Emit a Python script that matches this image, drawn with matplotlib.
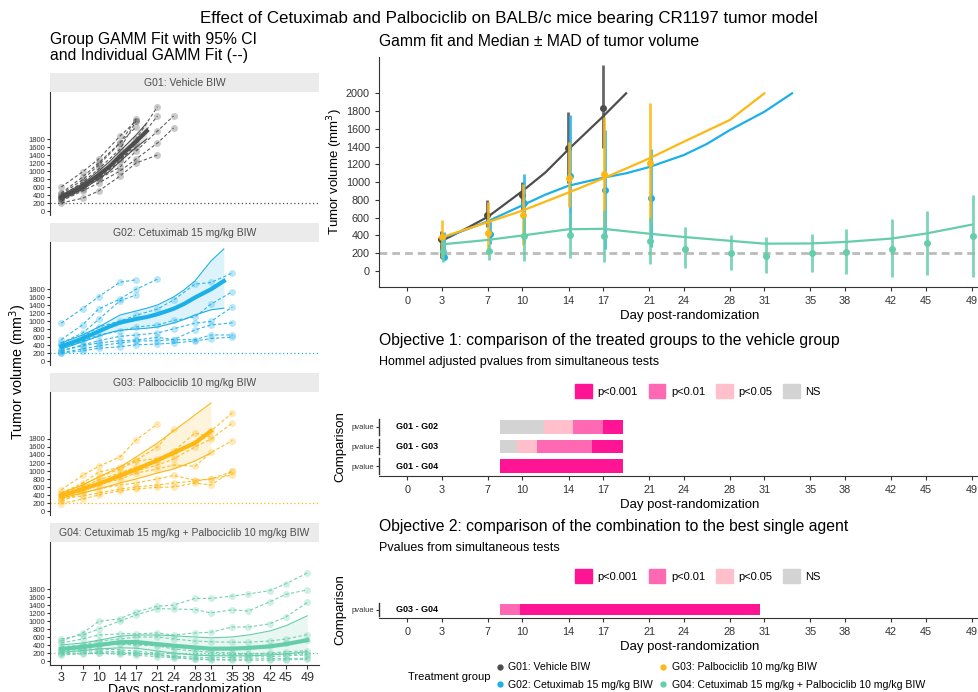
import matplotlib
matplotlib.use('Agg')
import matplotlib.pyplot as plt
from matplotlib.patches import Patch
from matplotlib.lines import Line2D
import numpy as np

plt.rcParams['font.family'] = ['Liberation Sans', 'DejaVu Sans']
nan = np.nan
W, H = 979, 692

# ---- data ----
groups = ['G01: Vehicle BIW', 'G02: Cetuximab 15 mg/kg BIW',
          'G03: Palbociclib 10 mg/kg BIW',
          'G04: Cetuximab 15 mg/kg + Palbociclib 10 mg/kg BIW']
colors = ['#4D4D4D', '#1CB0E8', '#FDB813', '#66CDAA']
day_ticks = [0, 3, 7, 10, 14, 17, 21, 24, 28, 31, 35, 38, 42, 45, 49]
facet_ticks = [3, 7, 10, 14, 17, 21, 24, 28, 31, 35, 38, 42, 45, 49]

# median +/- MAD (main panel)
g01_days = [3, 7, 10, 14, 17]
g01_med = [360, 630, 850, 1390, 1830]
g01_lo = [150, 500, 690, 990, 1380]
g01_hi = [450, 800, 1000, 1790, 2320]
g02_days = [3, 7, 10, 14, 17, 21]
g02_med = [160, 420, 760, 1070, 910, 820]
g02_lo = [140, 300, 310, 400, 250, 270]
g02_hi = [440, 560, 1090, 1760, 1590, 1370]
g03_days = [3, 7, 10, 14, 17, 21]
g03_med = [380, 430, 630, 1050, 1090, 1220]
g03_lo = [160, 195, 290, 720, 500, 545]
g03_hi = [570, 780, 985, 1455, 1730, 1895]
g04_days = [3, 7, 10, 14, 17, 21, 24, 28, 31, 35, 38, 42, 45, 49]
g04_med = [220, 220, 390, 400, 390, 340, 250, 200, 170, 200, 210, 250, 320, 390]
g04_lo = [100, 120, 110, 150, 100, 80, 30, 10, -20, -10, -30, -70, -40, -70]
g04_hi = [360, 300, 610, 650, 690, 610, 500, 400, 380, 420, 470, 580, 680, 850]

# group GAMM fits
g01_fit_days = [3, 5, 7, 10, 12, 14, 17, 19]
g01_fit = [340, 470, 610, 900, 1110, 1370, 1740, 2000]
g01_fit_lo = [290, 400, 540, 800, 990, 1240, 1590, 1800]
g01_fit_hi = [400, 540, 680, 1000, 1230, 1500, 1900, 2200]
g02_fit_days = [3, 5, 7, 10, 12, 14, 17, 19, 21, 24, 26, 28, 31, 33.4]
g02_fit = [370, 460, 560, 740, 860, 960, 1050, 1100, 1170, 1305, 1430, 1586, 1793, 2000]
g02_fit_lo = [300, 390, 480, 620, 710, 770, 800, 820, 850, 950, 1040, 1150, 1280, 1320]
g02_fit_hi = [450, 550, 650, 850, 1000, 1150, 1250, 1320, 1400, 1600, 1780, 2000, 2500, 2800]
g03_fit_days = [3, 7, 10, 14, 17, 21, 24, 28, 31]
g03_fit = [380, 550, 680, 883, 1041, 1267, 1455, 1700, 2000]
g03_fit_lo = [320, 450, 550, 700, 800, 950, 1050, 1250, 1450]
g03_fit_hi = [450, 650, 850, 1100, 1350, 1700, 2000, 2400, 2700]
g04_fit_days = [3, 7, 10, 14, 17, 21, 24, 28, 31, 35, 38, 42, 45, 49]
g04_fit = [300, 350, 400, 470, 475, 420, 383, 340, 308, 310, 327, 365, 421, 522]
g04_fit_lo = [220, 260, 300, 330, 320, 250, 200, 150, 130, 130, 130, 150, 180, 230]
g04_fit_hi = [400, 450, 520, 620, 650, 650, 630, 600, 580, 600, 650, 750, 880, 1130]

# individual animals
g01_mouse_days = [3, 7, 10, 14, 17, 21, 24]
g01_mice = [
    [420, 780, 1150, 1700, 2300, nan, nan],
    [380, 720, 1050, 1550, 2250, nan, nan],
    [600, 980, 1300, 1875, 2250, nan, nan],
    [350, 650, 900, 1400, 1800, 2608, nan],
    [300, 560, 820, 1250, 1700, 2375, nan],
    [320, 600, 800, 1100, 1500, 2000, 2375],
    [250, 500, 700, 1000, 1300, 1700, 2075],
    [200, 320, 500, 875, 1200, 1400, nan],
    [450, 850, 1200, 1708, 2100, nan, nan],
    [330, 600, 850, 1300, 1600, nan, nan],
]
g02_mouse_days = [3, 7, 10, 14, 17, 21, 24, 28, 31, 35]
g02_mice = [
    [947, 1312, 1607, 1972, 2030, nan, nan, nan, nan, nan],
    [533, 905, 1300, 1550, 1794, 2047, nan, nan, nan, nan],
    [450, 700, 1040, 1506, 1650, nan, nan, nan, nan, nan],
    [400, 600, 850, 1000, 1142, 1300, 1523, 1921, 1963, 2200],
    [300, 500, 650, 750, 850, 900, 1015, 1100, 1421, 1734],
    [260, 400, 508, 617, 650, 700, 804, 947, 990, 1353],
    [250, 380, 450, 508, 525, 592, 533, 778, 900, 956],
    [212, 300, 381, 450, 500, 508, 533, 533, 651, 651],
    [200, 254, 320, 355, 406, 423, 450, 500, 560, 600],
]
g03_mouse_days = [3, 7, 10, 14, 17, 21, 24, 28, 31, 35]
g03_mice = [
    [533, 888, 1117, 1354, 1777, 2174, nan, nan, nan, nan],
    [450, 700, 972, 1100, 1269, 1600, 2047, nan, nan, nan],
    [420, 650, 850, 1050, 1250, 1311, 1500, 1946, 1861, nan],
    [400, 600, 780, 950, 1100, 1250, 1400, 1700, 2000, 2453],
    [350, 550, 700, 850, 1000, 1150, 1300, 1600, 1800, 2200],
    [300, 500, 650, 800, 950, 1050, 1150, 1117, 1463, 1760],
    [250, 450, 550, 650, 700, 804, 888, 770, 800, 992],
    [186, 300, 400, 508, 550, 592, 600, 700, 651, 1000],
    [300, 380, 450, 550, 600, 650, 700, 750, 800, 900],
]
g04_mouse_days = [3, 7, 10, 14, 17, 21, 24, 28, 31, 35, 38, 42, 45, 49]
g04_mice = [
    [500, 700, 990, 1058, 1227, 1371, 1396, 1565, 1565, 1624, 1675, 1760, 1929, 2200],
    [550, 650, 800, 1000, 1150, 1311, 1300, 1287, 1202, 1280, 1250, 1480, 1667, 1777],
    [450, 550, 650, 680, 680, 700, 650, 700, 720, 850, 850, 931, 1100, 1464],
    [300, 400, 500, 550, 600, 600, 550, 500, 480, 470, 470, 500, 550, 660],
    [350, 400, 420, 450, 420, 400, 350, 300, 280, 300, 330, 380, 450, 520],
    [250, 300, 300, 280, 250, 200, 180, 150, 150, 160, 170, 200, 230, 260],
    [200, 250, 250, 230, 200, 170, 120, 100, 80, 90, 100, 110, 130, 150],
    [180, 200, 210, 200, 180, 150, 100, 60, 40, 40, 50, 60, 60, 70],
    [150, 180, 190, 170, 140, 110, 80, 40, 30, 20, 20, 20, 30, 40],
    [280, 350, 400, 420, 400, 380, 300, 250, 220, 200, 180, 170, 170, 170],
]

# p-value intervals (start day, end day, category)
p_levels = ['p<0.001', 'p<0.01', 'p<0.05', 'NS']
p_colors = ['#FF1493', '#FF69B4', '#FFC0CB', '#D3D3D3']
obj1_labels = ['G01 - G02', 'G01 - G03', 'G01 - G04']
obj1_start = [[8.05, 11.87, 14.38, 16.95], [8.05, 9.55, 11.3, 16.06], [8.05]]
obj1_end = [[11.87, 14.38, 16.95, 18.7], [9.55, 11.3, 16.06, 18.7], [18.7]]
obj1_cat = [['NS', 'p<0.05', 'p<0.01', 'p<0.001'],
            ['NS', 'p<0.05', 'p<0.01', 'p<0.001'], ['p<0.001']]
obj2_labels = ['G03 - G04']
obj2_start = [[8.05, 9.8]]
obj2_end = [[9.8, 30.58]]
obj2_cat = [['p<0.01', 'p<0.001']]

main_days = [g01_days, g02_days, g03_days, g04_days]
main_med = [g01_med, g02_med, g03_med, g04_med]
main_lo = [g01_lo, g02_lo, g03_lo, g04_lo]
main_hi = [g01_hi, g02_hi, g03_hi, g04_hi]
fit_days = [g01_fit_days, g02_fit_days, g03_fit_days, g04_fit_days]
fit_val = [g01_fit, g02_fit, g03_fit, g04_fit]
fit_lo = [g01_fit_lo, g02_fit_lo, g03_fit_lo, g04_fit_lo]
fit_hi = [g01_fit_hi, g02_fit_hi, g03_fit_hi, g04_fit_hi]
mouse_days = [g01_mouse_days, g02_mouse_days, g03_mouse_days, g04_mouse_days]
mice = [g01_mice, g02_mice, g03_mice, g04_mice]

fig = plt.figure(figsize=(W / 100, H / 100), dpi=100)


def px_axes(l, t, r, b):
    return fig.add_axes([l / W, 1 - b / H, (r - l) / W, (b - t) / H])


AX_COL = '#333333'
TICK_FS = 7.8
LAB_FS = 9.5

fig.text(509 / W, 1 - 18 / H,
         'Effect of Cetuximab and Palbociclib on BALB/c mice bearing CR1197 tumor model',
         ha='center', va='center', fontsize=12.2)
fig.text(50 / W, 1 - 32 / H, 'Group GAMM Fit with 95% CI\nand Individual GAMM Fit (--)',
         ha='left', va='top', fontsize=11.3, linespacing=1.1)
fig.text(18 / W, 1 - 372 / H, 'Tumor volume (mm$^3$)', rotation=90,
         ha='center', va='center', fontsize=10.3)

# ---- left facets ----
for k in range(4):
    top = 73 + 150 * k
    sax = px_axes(50, top, 319, top + 19)
    sax.set_facecolor('#EBEBEB')
    sax.set_xticks([]); sax.set_yticks([])
    for s in sax.spines.values():
        s.set_visible(False)
    sax.text(0.5, 0.5, groups[k], ha='center', va='center', fontsize=7.5,
             color='#4D4D4D', transform=sax.transAxes)

    ax = px_axes(50, top + 19, 319, top + 142)
    c = colors[k]
    ax.set_xlim(0.9, 51.2)
    ax.set_ylim(-100, 2975)
    ax.axhline(200, color=c, lw=0.9, ls=(0, (1, 2)))
    ax.fill_between(fit_days[k], fit_lo[k], fit_hi[k], color=c, alpha=0.15, lw=0)
    ax.plot(fit_days[k], fit_lo[k], color=c, lw=0.8)
    ax.plot(fit_days[k], fit_hi[k], color=c, lw=0.8)
    for m in mice[k]:
        ax.plot(mouse_days[k], m, color=c, lw=0.8, ls=(0, (3, 2)), alpha=0.9)
        ax.plot(mouse_days[k], m, 'o', color=c, ms=5, alpha=0.3, mec='none')
    ax.plot(fit_days[k], fit_val[k], color=c, lw=3)
    ax.set_yticks(range(0, 2000, 200))
    ax.tick_params(axis='y', labelsize=5.5, length=2.5, pad=1, colors=AX_COL)
    for s in ['top', 'right']:
        ax.spines[s].set_visible(False)
    ax.spines['left'].set_color(AX_COL)
    if k < 3:
        ax.spines['bottom'].set_visible(False)
        ax.set_xticks([])
    else:
        ax.spines['bottom'].set_color(AX_COL)
        ax.set_xticks(facet_ticks)
        ax.tick_params(axis='x', labelsize=9, length=3, pad=2, colors=AX_COL)
        ax.set_xlabel('Days post-randomization', fontsize=10, labelpad=-1)

# ---- main panel ----
ax = px_axes(379, 57, 1000, 287)
ax.set_xlim(-2.45, 51.45)
ax.set_ylim(-180, 2409)
ax.axhline(200, color='#BBBBBB', lw=2, ls=(0, (2.8, 1.8)))
offsets = [-0.05, 0.15, 0.05, 0.1]
for k in range(4):
    d = np.array(main_days[k]) + offsets[k]
    med = np.array(main_med[k])
    ax.vlines(d, main_lo[k], main_hi[k], color=colors[k], lw=2, alpha=0.85)
    ax.plot(d, med, 'o', color=colors[k], ms=4)
    ax.plot(fit_days[k], fit_val[k], color=colors[k], lw=1.6)
ax.set_xticks(day_ticks)
ax.set_yticks(range(0, 2001, 200))
ax.tick_params(labelsize=TICK_FS, length=3, colors=AX_COL)
for s in ['top', 'right']:
    ax.spines[s].set_visible(False)
for s in ['left', 'bottom']:
    ax.spines[s].set_color(AX_COL)
ax.set_xlabel('Day post-randomization', fontsize=LAB_FS, labelpad=3)
ax.set_ylabel('Tumor volume (mm$^3$)', fontsize=LAB_FS)
ax.yaxis.set_label_coords((345 - 379) / 621, 0.5)
ax.set_title('Gamm fit and Median \u00b1 MAD of tumor volume', loc='left',
             fontsize=11.3, x=0.0, pad=8)


# ---- p-value panels ----
def pvalue_panel(top, bottom, labels, starts, ends, cats, title, subtitle, t_y, s_y, leg_y):
    fig.text(379 / W, 1 - t_y / H, title, ha='left', va='center', fontsize=11.3)
    fig.text(379 / W, 1 - s_y / H, subtitle, ha='left', va='center', fontsize=9)
    n = len(labels)
    pax = px_axes(379, top, 1000, bottom)
    pax.set_xlim(-2.45, 51.45)
    pax.set_ylim(-0.5, n - 0.5)
    rows = list(range(n - 1, -1, -1))
    for r, lab, st, en, ca in zip(rows, labels, starts, ends, cats):
        for s0, e0, cc in zip(st, en, ca):
            pax.barh(r, e0 - s0, left=s0, height=0.7,
                     color=p_colors[p_levels.index(cc)], lw=0)
        pax.text(-1, r, lab, ha='left', va='center', fontsize=6.5,
                 fontweight='bold')
        pax.plot([0, 0], [r - 0.4, r + 0.4], color=AX_COL, lw=1,
                 transform=pax.get_yaxis_transform(), clip_on=False)
    pax.set_yticks(rows)
    pax.set_yticklabels(['pvalue'] * n)
    pax.tick_params(axis='y', labelsize=5.5, length=2.5, pad=1, colors=AX_COL)
    pax.set_xticks(day_ticks)
    pax.tick_params(axis='x', labelsize=TICK_FS, length=3, colors=AX_COL)
    for s in ['top', 'right', 'left']:
        pax.spines[s].set_visible(False)
    pax.spines['bottom'].set_color(AX_COL)
    pax.set_xlabel('Day post-randomization', fontsize=LAB_FS, labelpad=3)
    pax.set_ylabel('Comparison', fontsize=LAB_FS)
    pax.yaxis.set_label_coords((346 - 379) / 621, 0.5)
    handles = [Patch(color=pc) for pc in p_colors]
    fig.legend(handles, p_levels, loc='center', bbox_to_anchor=(698 / W, 1 - leg_y / H),
               ncol=4, frameon=False, fontsize=8, handlelength=1.5, handleheight=1.5,
               columnspacing=1.0, handletextpad=0.5)


pvalue_panel(417, 476, obj1_labels, obj1_start, obj1_end, obj1_cat,
             'Objective 1: comparison of the treated groups to the vehicle group',
             'Hommel adjusted pvalues from simultaneous tests', 340, 362, 391)
pvalue_panel(601, 618, obj2_labels, obj2_start, obj2_end, obj2_cat,
             'Objective 2: comparison of the combination to the best single agent',
             'Pvalues from simultaneous tests', 526, 548, 576)

# ---- treatment legend ----
fig.text(408 / W, 1 - 677 / H, 'Treatment group', ha='left', va='center', fontsize=8)
g_handles = [Line2D([], [], marker='o', ls='none', color=c, ms=3.5) for c in colors]
fig.legend(g_handles, groups, loc='center left', bbox_to_anchor=(489 / W, 1 - 676 / H),
           ncol=2, frameon=False, fontsize=7.6, handlelength=1.0, handletextpad=0.3,
           columnspacing=0.5, labelspacing=0.7, borderpad=0)

fig.savefig('out.png', dpi=100)
